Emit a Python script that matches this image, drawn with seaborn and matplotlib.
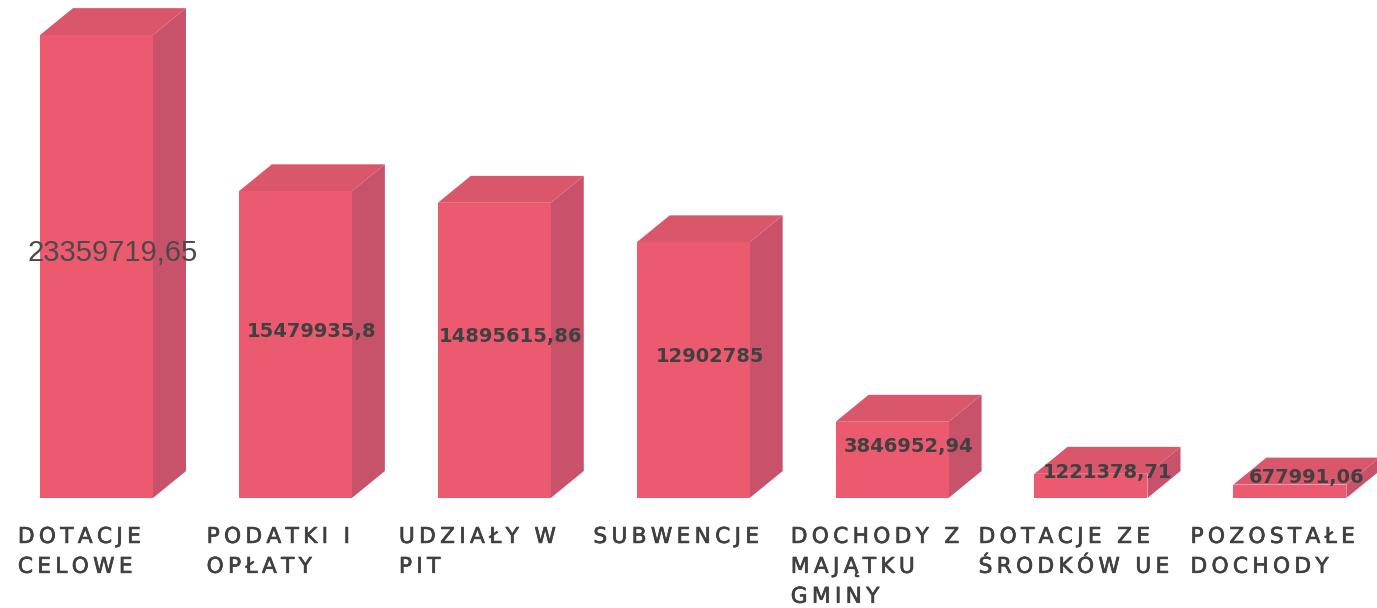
import matplotlib
matplotlib.use("Agg")
import matplotlib.pyplot as plt
from matplotlib.patches import Polygon
import matplotlib.patheffects as pe
import matplotlib.transforms as mtransforms
import pandas as pd
import seaborn as sns

# data
categories = ["DOTACJE CELOWE", "PODATKI I OPŁATY", "UDZIAŁY W PIT", "SUBWENCJE",
              "DOCHODY Z MAJĄTKU GMINY", "DOTACJE ZE ŚRODKÓW UE", "POZOSTAŁE DOCHODY"]
wrapped = ["DOTACJE\nCELOWE", "PODATKI I\nOPŁATY", "UDZIAŁY W\nPIT", "SUBWENCJE",
           "DOCHODY Z\nMAJĄTKU\nGMINY", "DOTACJE ZE\nŚRODKÓW UE", "POZOSTAŁE\nDOCHODY"]
values = [23359719.65, 15479935.8, 14895615.86, 12902785,
          3846952.94, 1221378.71, 677991.06]
value_labels = ["23359719,65", "15479935,8", "14895615,86", "12902785",
                "3846952,94", "1221378,71", "677991,06"]

front_col = "#EB5A6E"
side_col = "#C8526A"
top_col = "#DA566B"
text_col = "#404040"

df = pd.DataFrame({"kategoria": categories, "wartosc": values})

sns.set_style("white")
fig = plt.figure(figsize=(13.77, 6.08), dpi=100)
ax = fig.add_axes([0, 110 / 608, 1, 498 / 608])

sns.barplot(data=df, x="kategoria", y="wartosc", color=front_col, width=0.568,
            saturation=1, ax=ax, zorder=2)

ax.set_xlim(-0.485, 6.438)
ax.set_ylim(0, 25.13e6)
ax.axis("off")

# depth of the 3D boxes, in data units
dx = 0.166
dy = 1.36e6

for i, p in enumerate(ax.patches):
    p.set_edgecolor("none")
    x0 = p.get_x()
    w = p.get_width()
    h = p.get_height()
    side = Polygon([(x0 + w, 0), (x0 + w + dx, dy), (x0 + w + dx, h + dy), (x0 + w, h)],
                   closed=True, facecolor=side_col, edgecolor="none", zorder=1)
    top = Polygon([(x0, h), (x0 + dx, h + dy), (x0 + w + dx, h + dy), (x0 + w, h)],
                  closed=True, facecolor=top_col, edgecolor="none", zorder=1)
    ax.add_patch(side)
    ax.add_patch(top)

    cx = x0 + (w + dx) / 2
    cy = (h + dy) / 2
    if i == 0:
        ax.text(cx, cy, value_labels[i], ha="center", va="center", fontsize=21,
                family="Liberation Sans", color="#4a4a4a", zorder=5)
    else:
        ax.text(cx, cy, value_labels[i], ha="center", va="center", fontsize=14,
                family="DejaVu Sans", fontweight="bold", color=text_col, zorder=5)

# category labels with letter spacing
trans = mtransforms.blended_transform_factory(ax.transData, ax.transAxes)
for i, lab in enumerate(wrapped):
    spaced = "\n".join("\u2009 \u2009".join("\u2009".join(word) for word in line.split(" "))
                       for line in lab.split("\n"))
    ax.text(i - 0.085, -0.058, spaced, transform=trans, ha="center", va="top",
            multialignment="left", fontsize=15.6, family="DejaVu Sans",
            color=text_col, linespacing=1.62,
            path_effects=[pe.withStroke(linewidth=0.5, foreground=text_col)])

fig.savefig("out.png", dpi=100, facecolor="white")
